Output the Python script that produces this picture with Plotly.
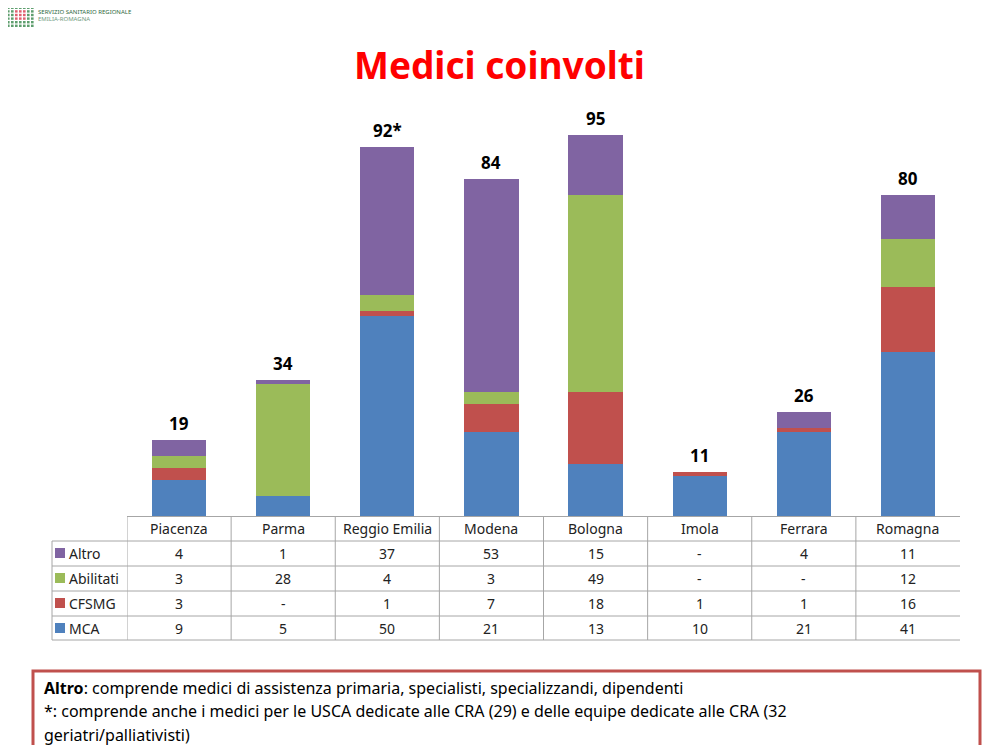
import plotly.graph_objects as go

# ---------------- data ----------------
categories = ["Piacenza", "Parma", "Reggio Emilia", "Modena", "Bologna", "Imola", "Ferrara", "Romagna"]
mca = [9, 5, 50, 21, 13, 10, 21, 41]
cfsmg = [3, 0, 1, 7, 18, 1, 1, 16]
abilitati = [3, 28, 4, 3, 49, 0, 0, 12]
altro = [4, 1, 37, 53, 15, 0, 4, 11]
total_suffix = ["", "", "*", "", "", "", "", ""]

series = [  # bottom to top
    ("MCA", mca, "#4F81BD"),
    ("CFSMG", cfsmg, "#C0504D"),
    ("Abilitati", abilitati, "#9BBB59"),
    ("Altro", altro, "#8064A2"),
]
table_order = ["Altro", "Abilitati", "CFSMG", "MCA"]

title_text = "Medici coinvolti"
note_lines = [
    "<b>Altro</b>: comprende medici di assistenza primaria, specialisti, specializzandi, dipendenti",
    "*: comprende anche i medici per le USCA dedicate alle CRA (29) e delle equipe dedicate alle CRA (32",
    "geriatri/palliativisti)",
]

# ---------------- layout geometry (reference pixels) ----------------
W, H = 994, 745
OFF = 8                  # page body margin
L, R = 127, 960          # plot area x
T, B = 100, 516          # plot area y
PW, PH = R - L, B - T
FONT = "Noto Sans"


def px(xp):
    return (xp - L) / PW


def py(yp):
    return (B - yp) / PH


fig = go.Figure()
for name, vals, col in series:
    fig.add_trace(go.Bar(x=categories, y=vals, name=name, marker=dict(color=col, line=dict(width=0)),
                         width=0.52, showlegend=False, hoverinfo="x+y+name"))

totals = [sum(v) for v in zip(mca, cfsmg, abilitati, altro)]

annotations = []
shapes = []

# total labels
for c, t, s in zip(categories, totals, total_suffix):
    annotations.append(dict(x=c, y=t, xref="x", yref="y", text=f"<b>{t}{s}</b>", showarrow=False,
                            yanchor="bottom", yshift=3, font=dict(family=FONT, size=17, color="#000")))

# title
annotations.append(dict(x=px(499), y=py(65), xref="paper", yref="paper", text=f"<b>{title_text}</b>",
                        showarrow=False, font=dict(family=FONT, size=37, color="#FF0000"),
                        xanchor="center", yanchor="middle"))

# ---------------- table ----------------
grid = "#A6A6A6"
header_y = 528
row_y = [553, 578, 603, 628]
hlines = [541, 566, 591, 616, 640]
TF = dict(family=FONT, size=14, color="#222")
for c in categories:
    annotations.append(dict(x=c, y=py(header_y), xref="x", yref="paper", text=c, showarrow=False,
                            font=TF, yanchor="middle"))
data_map = {n: (v, col) for n, v, col in series}
for name, yy in zip(table_order, row_y):
    vals, col = data_map[name]
    shapes.append(dict(type="rect", xref="paper", yref="paper", x0=px(55), x1=px(65),
                       y0=py(yy - 5), y1=py(yy + 5), line=dict(width=0), fillcolor=col))
    annotations.append(dict(x=px(67), y=py(yy), xref="paper", yref="paper",
                            text=name, showarrow=False, xanchor="left", yanchor="middle", font=TF))
    for c, v in zip(categories, vals):
        annotations.append(dict(x=c, y=py(yy), xref="x", yref="paper", text=str(v) if v else "-",
                                showarrow=False, yanchor="middle", font=TF))
for hy in hlines:
    shapes.append(dict(type="line", xref="paper", yref="paper", x0=px(52), x1=px(R), y0=py(hy), y1=py(hy),
                       line=dict(color=grid, width=1)))
for i in range(len(categories)):
    shapes.append(dict(type="line", xref="x", yref="paper", x0=i - 0.5, x1=i - 0.5, y0=py(516), y1=py(640),
                       line=dict(color=grid, width=1)))
shapes.append(dict(type="line", xref="paper", yref="paper", x0=px(52), x1=px(52), y0=py(541), y1=py(640),
                   line=dict(color=grid, width=1)))

# ---------------- note box ----------------
shapes.append(dict(type="rect", xref="paper", yref="paper", x0=px(33), x1=px(980), y0=py(671), y1=py(770),
                   line=dict(color="#C0504D", width=3), fillcolor="rgba(0,0,0,0)"))
for txt, yy in zip(note_lines, [688, 711, 735]):
    annotations.append(dict(x=px(42), y=py(yy), xref="paper", yref="paper", text=txt, showarrow=False,
                            xanchor="left", yanchor="middle", font=dict(family=FONT, size=16, color="#000")))

# ---------------- logo ----------------
for r in range(7):
    for c in range(8):
        red = 2 <= r <= 4 and 3 <= c <= 5
        colr = "#E06070" if red else "#5E9E6E"
        x0 = 3 + c * 4
        y0 = 3 + r * 3.6
        shapes.append(dict(type="rect", xref="paper", yref="paper", x0=px(x0), x1=px(x0 + 2.6),
                           y0=py(y0), y1=py(y0 + 2.4), line=dict(width=0), fillcolor=colr))
annotations.append(dict(x=px(36), y=py(12), xref="paper", yref="paper", text="SERVIZIO SANITARIO REGIONALE",
                        showarrow=False, xanchor="left", yanchor="middle",
                        font=dict(family=FONT, size=6, color="#2F6A42")))
annotations.append(dict(x=px(36), y=py(19), xref="paper", yref="paper", text="EMILIA-ROMAGNA",
                        showarrow=False, xanchor="left", yanchor="middle",
                        font=dict(family=FONT, size=6, color="#6F9A80")))

fig.update_layout(
    barmode="stack",
    width=W - OFF, height=H - OFF,
    margin=dict(l=L - OFF, r=W - R, t=T - OFF, b=H - B, pad=0),
    paper_bgcolor="white", plot_bgcolor="white",
    xaxis=dict(showticklabels=False, ticks="", showline=True, linecolor=grid, linewidth=1,
               range=[-0.5, len(categories) - 0.5], showgrid=False, zeroline=False),
    yaxis=dict(visible=False, range=[0, PH / 4.01], showgrid=False, zeroline=False),
    annotations=annotations,
    shapes=shapes,
    font=dict(family=FONT),
)

fig.write_html("out.html")
